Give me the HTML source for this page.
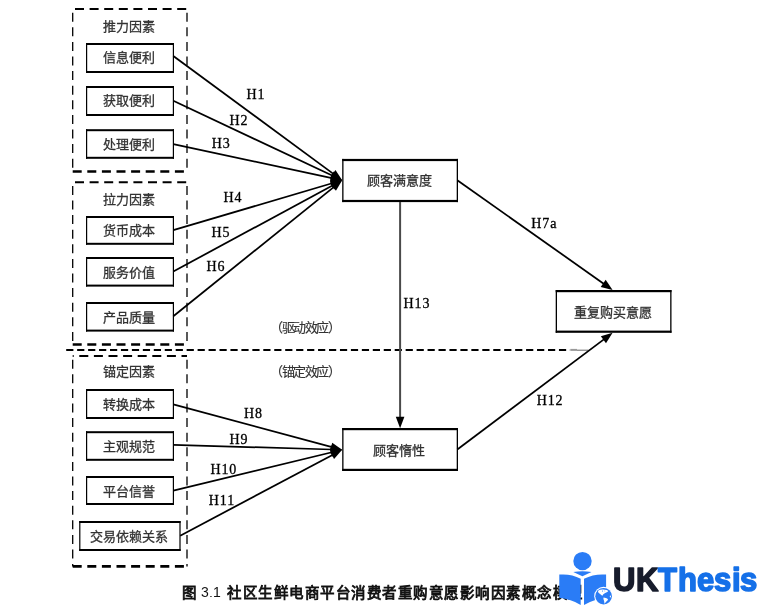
<!DOCTYPE html><html lang="zh-CN"><head><meta charset="utf-8"><style>
@font-face{font-family:"Liberation Sans";src:local("Liberation Sans"),local("LiberationSans-Regular"),local("LiberationSans");font-weight:normal;size-adjust:135%}
@font-face{font-family:"Liberation Sans";src:local("Liberation Sans Bold"),local("LiberationSans-Bold");font-weight:bold}
html,body{margin:0;padding:0;background:#fff;width:769px;height:605px;overflow:hidden}
svg{position:absolute;left:0;top:0;will-change:transform}
.t{font-family:"Liberation Sans",sans-serif}
.h{font-family:"Liberation Serif",serif;font-size:14px;fill:#000;stroke:#000;stroke-width:0.3px;letter-spacing:0.9px}
.cap{font-family:"Liberation Sans",sans-serif}
</style></head><body>
<svg width="769" height="605" viewBox="0 0 769 605">
<line x1="72.7" y1="9" x2="187" y2="9" stroke="#000" stroke-width="2" stroke-dasharray="9 5.6" stroke-dashoffset="-2.3"/>
<line x1="72.7" y1="171.5" x2="187" y2="171.5" stroke="#000" stroke-width="2.4" stroke-dasharray="9 5.6" stroke-dashoffset="0"/>
<line x1="72.7" y1="12" x2="72.7" y2="171.5" stroke="#000" stroke-width="1.3" stroke-dasharray="9 5.6" stroke-dashoffset="-0.7"/>
<line x1="187" y1="12" x2="187" y2="171.5" stroke="#000" stroke-width="1.3" stroke-dasharray="9 5.6" stroke-dashoffset="-0.7"/>
<line x1="72.7" y1="182.2" x2="187" y2="182.2" stroke="#000" stroke-width="2" stroke-dasharray="9 5.6" stroke-dashoffset="-2.3"/>
<line x1="72.7" y1="344.4" x2="187" y2="344.4" stroke="#000" stroke-width="2.5" stroke-dasharray="9 5.6" stroke-dashoffset="0"/>
<line x1="72.7" y1="185.2" x2="72.7" y2="344.4" stroke="#000" stroke-width="1.3" stroke-dasharray="9 5.6" stroke-dashoffset="-0.7"/>
<line x1="187" y1="185.2" x2="187" y2="344.4" stroke="#000" stroke-width="1.3" stroke-dasharray="9 5.6" stroke-dashoffset="-0.7"/>
<line x1="72.7" y1="356" x2="187" y2="356" stroke="#000" stroke-width="2" stroke-dasharray="9 5.6" stroke-dashoffset="-6.6"/>
<line x1="72.7" y1="566.4" x2="187" y2="566.4" stroke="#000" stroke-width="2.6" stroke-dasharray="9 5.6" stroke-dashoffset="0"/>
<line x1="72.7" y1="359" x2="72.7" y2="566.4" stroke="#000" stroke-width="1.3" stroke-dasharray="9 5.6" stroke-dashoffset="-0.7"/>
<line x1="187" y1="359" x2="187" y2="566.4" stroke="#000" stroke-width="1.3" stroke-dasharray="9 5.6" stroke-dashoffset="-0.7"/>
<line x1="66.2" y1="349.9" x2="570" y2="349.9" stroke="#000" stroke-width="2" stroke-dasharray="7.2 3.75"/><line x1="570.3" y1="349.9" x2="577" y2="349.9" stroke="#999" stroke-width="2"/><line x1="577" y1="350.2" x2="588.5" y2="350.2" stroke="#666" stroke-width="1"/>
<rect x="86" y="43" width="88" height="2" fill="#000"/>
<rect x="86" y="71" width="88" height="2" fill="#000"/>
<rect x="86" y="43" width="1.2" height="30" fill="#000"/>
<rect x="172.8" y="43" width="1.2" height="30" fill="#000"/>
<text x="103.33 116.33 129.33 142.33" y="61.80" class="t" style="font-size:13px" fill="#333" stroke="#333" stroke-width="0.3">信息便利</text>
<rect x="86" y="86" width="88" height="2" fill="#000"/>
<rect x="86" y="114" width="88" height="2" fill="#000"/>
<rect x="86" y="86" width="1.2" height="30" fill="#000"/>
<rect x="172.8" y="86" width="1.2" height="30" fill="#000"/>
<text x="103.33 116.33 129.33 142.33" y="104.80" class="t" style="font-size:13px" fill="#333" stroke="#333" stroke-width="0.3">获取便利</text>
<rect x="86" y="129.2" width="88" height="2" fill="#000"/>
<rect x="86" y="156.8" width="88" height="2" fill="#000"/>
<rect x="86" y="129.2" width="1.2" height="29.600000000000023" fill="#000"/>
<rect x="172.8" y="129.2" width="1.2" height="29.600000000000023" fill="#000"/>
<text x="103.33 116.33 129.33 142.33" y="149.00" class="t" style="font-size:13px" fill="#333" stroke="#333" stroke-width="0.3">处理便利</text>
<rect x="86" y="216" width="88" height="2" fill="#000"/>
<rect x="86" y="242.8" width="88" height="2" fill="#000"/>
<rect x="86" y="216" width="1.2" height="28.80000000000001" fill="#000"/>
<rect x="172.8" y="216" width="1.2" height="28.80000000000001" fill="#000"/>
<text x="103.33 116.33 129.33 142.33" y="234.60" class="t" style="font-size:13px" fill="#333" stroke="#333" stroke-width="0.3">货币成本</text>
<rect x="86" y="257" width="88" height="2" fill="#000"/>
<rect x="86" y="284.6" width="88" height="2" fill="#000"/>
<rect x="86" y="257" width="1.2" height="29.600000000000023" fill="#000"/>
<rect x="172.8" y="257" width="1.2" height="29.600000000000023" fill="#000"/>
<text x="103.33 116.33 129.33 142.33" y="276.80" class="t" style="font-size:13px" fill="#333" stroke="#333" stroke-width="0.3">服务价值</text>
<rect x="86" y="302" width="88" height="2" fill="#000"/>
<rect x="86" y="329.6" width="88" height="2" fill="#000"/>
<rect x="86" y="302" width="1.2" height="29.600000000000023" fill="#000"/>
<rect x="172.8" y="302" width="1.2" height="29.600000000000023" fill="#000"/>
<text x="103.33 116.33 129.33 142.33" y="321.80" class="t" style="font-size:13px" fill="#333" stroke="#333" stroke-width="0.3">产品质量</text>
<rect x="86" y="389" width="88" height="2" fill="#000"/>
<rect x="86" y="417" width="88" height="2" fill="#000"/>
<rect x="86" y="389" width="1.2" height="30" fill="#000"/>
<rect x="172.8" y="389" width="1.2" height="30" fill="#000"/>
<text x="103.33 116.33 129.33 142.33" y="408.80" class="t" style="font-size:13px" fill="#333" stroke="#333" stroke-width="0.3">转换成本</text>
<rect x="86" y="431.2" width="88" height="2" fill="#000"/>
<rect x="86" y="458.8" width="88" height="2" fill="#000"/>
<rect x="86" y="431.2" width="1.2" height="29.600000000000023" fill="#000"/>
<rect x="172.8" y="431.2" width="1.2" height="29.600000000000023" fill="#000"/>
<text x="103.33 116.33 129.33 142.33" y="451.00" class="t" style="font-size:13px" fill="#333" stroke="#333" stroke-width="0.3">主观规范</text>
<rect x="86" y="476" width="88" height="2" fill="#000"/>
<rect x="86" y="503" width="88" height="2" fill="#000"/>
<rect x="86" y="476" width="1.2" height="29" fill="#000"/>
<rect x="172.8" y="476" width="1.2" height="29" fill="#000"/>
<text x="103.33 116.33 129.33 142.33" y="495.80" class="t" style="font-size:13px" fill="#333" stroke="#333" stroke-width="0.3">平台信誉</text>
<rect x="79.2" y="521" width="101.39999999999999" height="2" fill="#000"/>
<rect x="79.2" y="549" width="101.39999999999999" height="2" fill="#000"/>
<rect x="79.2" y="521" width="1.2" height="30" fill="#000"/>
<rect x="179.4" y="521" width="1.2" height="30" fill="#000"/>
<text x="90.23 103.23 116.23 129.23 142.23 155.23" y="541.30" class="t" style="font-size:13px" fill="#333" stroke="#333" stroke-width="0.3">交易依赖关系</text>
<text x="103.33 116.33 129.33 142.33" y="30.60" class="t" style="font-size:13px" fill="#333" stroke="#333" stroke-width="0.3">推力因素</text>
<text x="103.33 116.33 129.33 142.33" y="204.00" class="t" style="font-size:13px" fill="#333" stroke="#333" stroke-width="0.3">拉力因素</text>
<text x="103.33 116.33 129.33 142.33" y="376.20" class="t" style="font-size:13px" fill="#333" stroke="#333" stroke-width="0.3">锚定因素</text>
<rect x="342.2" y="158.9" width="115.80000000000001" height="2.2" fill="#000"/>
<rect x="342.2" y="199.9" width="115.80000000000001" height="2.2" fill="#000"/>
<rect x="342.2" y="158.9" width="1.3" height="43.19999999999999" fill="#000"/>
<rect x="456.7" y="158.9" width="1.3" height="43.19999999999999" fill="#000"/>
<text x="366.63 379.63 392.63 405.63 418.63" y="185.10" class="t" style="font-size:13px" fill="#333" stroke="#333" stroke-width="0.3">顾客满意度</text>
<rect x="342.2" y="428" width="115.80000000000001" height="2.2" fill="#000"/>
<rect x="342.2" y="468.8" width="115.80000000000001" height="2.2" fill="#000"/>
<rect x="342.2" y="428" width="1.3" height="43" fill="#000"/>
<rect x="456.7" y="428" width="1.3" height="43" fill="#000"/>
<text x="373.43 386.43 399.43 412.43" y="455.00" class="t" style="font-size:13px" fill="#333" stroke="#333" stroke-width="0.3">顾客惰性</text>
<rect x="555.7" y="290" width="115.79999999999995" height="2.2" fill="#000"/>
<rect x="555.7" y="330.6" width="115.79999999999995" height="2.2" fill="#000"/>
<rect x="555.7" y="290" width="1.3" height="42.80000000000001" fill="#000"/>
<rect x="670.2" y="290" width="1.3" height="42.80000000000001" fill="#000"/>
<text x="574.33 587.33 600.33 613.33 626.33 639.33" y="317.00" class="t" style="font-size:13px" fill="#333" stroke="#333" stroke-width="0.3">重复购买意愿</text>
<text x="269.93 281.53 293.13 304.73 316.33 327.93" y="332.00" class="t" style="font-size:13px" fill="#333" stroke="#333" stroke-width="0.15">（驱动效应）</text>
<text x="269.93 281.53 293.13 304.73 316.33 327.93" y="376.00" class="t" style="font-size:13px" fill="#333" stroke="#333" stroke-width="0.15">（锚定效应）</text>
<line x1="173.3" y1="56" x2="333.74" y2="174.08" stroke="#000" stroke-width="1.75"/>
<polygon points="342.20,180.30 330.39,176.95 335.49,170.02" fill="#000"/>
<line x1="173.3" y1="100.8" x2="332.70" y2="175.83" stroke="#000" stroke-width="1.75"/>
<polygon points="342.20,180.30 329.96,179.29 333.63,171.51" fill="#000"/>
<line x1="173.3" y1="144.2" x2="331.93" y2="178.11" stroke="#000" stroke-width="1.75"/>
<polygon points="342.20,180.30 330.06,182.10 331.85,173.69" fill="#000"/>
<line x1="173.3" y1="230.2" x2="332.13" y2="183.28" stroke="#000" stroke-width="1.75"/>
<polygon points="342.20,180.30 332.39,187.68 329.95,179.43" fill="#000"/>
<line x1="173.3" y1="271.5" x2="332.96" y2="185.29" stroke="#000" stroke-width="1.75"/>
<polygon points="342.20,180.30 334.12,189.55 330.04,181.98" fill="#000"/>
<line x1="173.3" y1="316.2" x2="334.02" y2="186.88" stroke="#000" stroke-width="1.75"/>
<polygon points="342.20,180.30 335.94,190.86 330.54,184.16" fill="#000"/>
<line x1="173.3" y1="404.4" x2="332.06" y2="447.07" stroke="#000" stroke-width="1.75"/>
<polygon points="342.20,449.80 329.98,450.97 332.21,442.66" fill="#000"/>
<line x1="173.3" y1="444.9" x2="331.70" y2="449.50" stroke="#000" stroke-width="1.75"/>
<polygon points="342.20,449.80 330.58,453.76 330.83,445.17" fill="#000"/>
<line x1="173.3" y1="490.7" x2="331.99" y2="452.27" stroke="#000" stroke-width="1.75"/>
<polygon points="342.20,449.80 332.04,456.69 330.01,448.33" fill="#000"/>
<line x1="180.2" y1="535.7" x2="332.92" y2="454.72" stroke="#000" stroke-width="1.75"/>
<polygon points="342.20,449.80 334.05,458.99 330.03,451.39" fill="#000"/>
<line x1="457.3" y1="180.3" x2="604.02" y2="283.94" stroke="#000" stroke-width="1.75"/>
<polygon points="612.60,290.00 600.73,286.88 605.69,279.85" fill="#000"/>
<line x1="457.3" y1="449.5" x2="604.21" y2="339.11" stroke="#000" stroke-width="1.75"/>
<polygon points="612.60,332.80 605.99,343.15 600.82,336.27" fill="#000"/>
<line x1="400.1" y1="202" x2="400.10" y2="417.80" stroke="#4a4a4a" stroke-width="2"/>
<polygon points="400.10,428.30 395.80,416.80 404.40,416.80" fill="#000"/>
<text x="246.5" y="98.9" class="h">H1</text>
<text x="229.5" y="125" class="h">H2</text>
<text x="211.7" y="147.7" class="h">H3</text>
<text x="223.4" y="202" class="h">H4</text>
<text x="211.5" y="237" class="h">H5</text>
<text x="206.5" y="270.9" class="h">H6</text>
<text x="244.1" y="418" class="h">H8</text>
<text x="229.6" y="443.8" class="h">H9</text>
<text x="210.4" y="474" class="h">H10</text>
<text x="208.8" y="505.1" class="h">H11</text>
<text x="531.3" y="228.1" class="h">H7a</text>
<text x="536.7" y="405" class="h">H12</text>
<text x="403.5" y="307.9" class="h">H13</text>
<text x="182.07" y="598.07" class="cap" style="font-size:14.5px" fill="#111" stroke="#111" stroke-width="0.8">图</text>
<text x="201.2" y="597" class="cap" style="font-size:10.37px" fill="#111">3.1</text>
<text x="227.47 242.97 258.47 273.97 289.47 304.97 320.47 335.97 351.47 366.97 382.47 397.97 413.47 428.97 444.47 459.97 475.47 490.97 506.47 521.97 537.47 552.97 568.47" y="598.07" class="cap" style="font-size:14.5px" fill="#111" stroke="#111" stroke-width="0.8">社区生鲜电商平台消费者重购意愿影响因素概念模型</text>
<circle cx="582.5" cy="561.1" r="9.2" fill="#2a7cf6"/>
<path d="M573.3,572 Q582.4,570.6 591.5,572 L582.4,576.2 Z" fill="#2a7cf6"/>
<path d="M559.3,574.6 Q571,573.5 580.7,578.8 L580.7,605 Q571,599 559.3,597.8 Z" fill="#2a7cf6"/>
<path d="M606.1,574.6 Q594.4,573.5 584,578.8 L584,605 Q594.4,599 606.1,597.8 Z" fill="#2a7cf6"/>
<circle cx="603.6" cy="596.2" r="9.4" fill="#fff"/>
<circle cx="603.6" cy="596.2" r="8.3" fill="#2a7cf6"/>
<path d="M598.1,590.8 Q600,589.6 602.1,589.5 Q605,589.4 606.6,589.9 Q607.8,590.4 608.3,591.1 Q607.9,591.7 607.3,592 Q606.2,592.5 605.2,593 Q603.9,593.6 603.1,594.4 Q602.7,595.2 602.4,595.8 Q601.6,595.1 600.7,594.4 Q599.7,593.7 598.9,593 Q598.2,592.5 598.1,592 Z" fill="#fff"/><circle cx="602.5" cy="591" r="0.55" fill="#2a7cf6"/><circle cx="604.8" cy="590.9" r="0.45" fill="#2a7cf6"/><path d="M603.5,597.5 Q604.8,597.6 605.9,597.9 Q607.2,598.4 608,599.3 Q607.8,600.1 607.3,600.7 Q606.3,601.5 605.5,602.4 Q605,603.1 604.5,603.8 Q604.3,602.5 604.2,601.4 Q603.9,600.3 603.5,599.3 Q603.3,598.4 603.5,597.5 Z" fill="#fff"/><ellipse cx="610.4" cy="596.5" rx="0.6" ry="1" fill="#fff"/>
<text x="0" y="0" transform="translate(613.1,591) scale(0.94,1)" style="font-family:'Liberation Sans',sans-serif;font-weight:bold;font-size:33px;letter-spacing:0.4px;stroke-width:1.6px;stroke-linejoin:round"><tspan fill="#171c2c" stroke="#171c2c">UK</tspan><tspan fill="#1570e8" stroke="#1570e8" style="letter-spacing:-0.1px">Thesis</tspan></text>
</svg>
</body></html>
